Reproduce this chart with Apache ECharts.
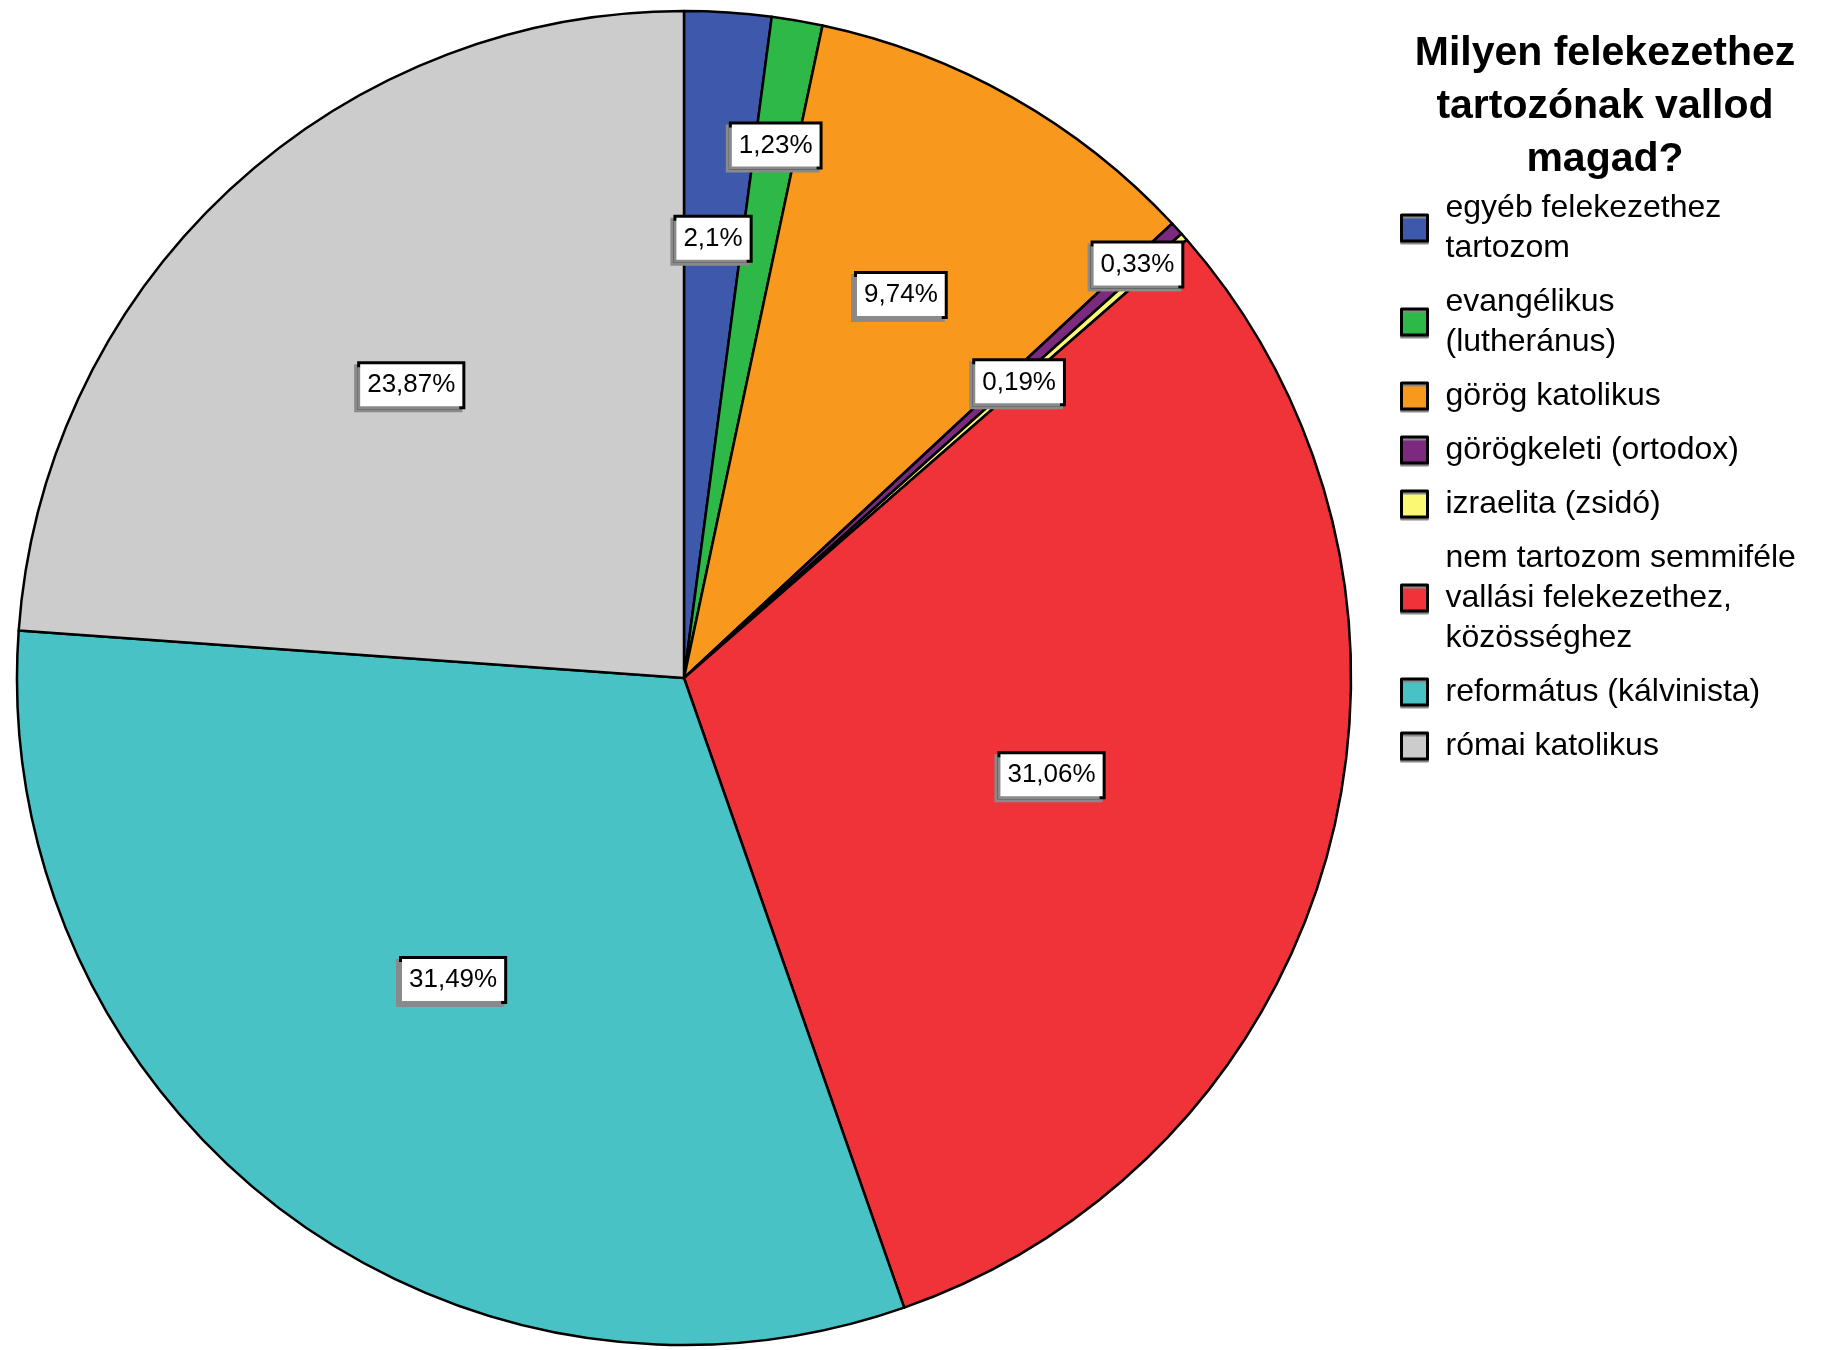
<!DOCTYPE html>
<html>
<head>
<meta charset="utf-8">
<title>Milyen felekezethez tartozónak vallod magad?</title>
<script src="https://cdn.jsdelivr.net/npm/echarts@6/dist/echarts.min.js"></script>
<style>
  html, body { margin: 0; padding: 0; background: #fff; }
  #chart { width: 1821px; height: 1350px; }
</style>
</head>
<body>
<div id="chart"></div>
<script>
// categories, in the order they appear clockwise from 12 o'clock
const categories = [
  'egyéb felekezethez\ntartozom',
  'evangélikus\n(lutheránus)',
  'görög katolikus',
  'görögkeleti (ortodox)',
  'izraelita (zsidó)',
  'nem tartozom semmiféle\nvallási felekezethez,\nközösséghez',
  'református (kálvinista)',
  'római katolikus'
];

// percent of respondents
const percents = [2.1, 1.23, 9.74, 0.33, 0.19, 31.06, 31.49, 23.87];

const colors = ['#3e58ac', '#2eb848', '#f8981d', '#7b2a80', '#fbf873', '#ef3338', '#48c2c5', '#cccccc'];

// where each percent label sits, as a share of the radius (styling only)
const labelRadius = [0.66, 0.81, 0.66, 0.92, 0.67, 0.57, 0.57, 0.60];

const CX = 684, CY = 678, R = 667;
const FONT = '"Liberation Sans", Arial, sans-serif';

const chart = echarts.init(document.getElementById('chart'));

const fmt = v => String(v).replace('.', ',') + '%';

chart.setOption({
  backgroundColor: '#fff',
  animation: false,
  color: colors,
  title: {
    text: 'Milyen felekezethez\ntartozónak vallod\nmagad?',
    left: 1605,
    top: 27,
    padding: 0,
    textAlign: 'center',
    textStyle: {
      fontFamily: FONT,
      fontWeight: 'bold',
      fontSize: 41,
      lineHeight: 53,
      color: '#000'
    }
  },
  legend: {
    orient: 'vertical',
    left: 1400,
    top: 188,
    padding: 0,
    itemGap: 14,
    itemWidth: 26,
    itemHeight: 26,
    icon: 'rect',
    selectedMode: false,
    itemStyle: {
      borderColor: '#000',
      borderWidth: 3,
      shadowColor: '#8a8a8a',
      shadowOffsetY: 2,
      shadowBlur: 0
    },
    textStyle: {
      fontFamily: FONT,
      fontSize: 32,
      lineHeight: 40,
      color: '#000',
      padding: [0, 0, 0, 13]
    },
    data: categories
  },
  series: [{
    type: 'pie',
    center: [CX, CY],
    radius: [0, R],
    startAngle: 90,
    clockwise: true,
    silent: true,
    emphasis: { disabled: true },
    itemStyle: { borderColor: '#000', borderWidth: 2.5 },
    label: {
      show: true,
      position: 'inside',
      formatter: p => fmt(p.value),
      fontFamily: FONT,
      fontSize: 26,
      color: '#000',
      backgroundColor: '#fff',
      borderColor: '#000',
      borderWidth: 3,
      padding: [9, 7, 7, 7],
      shadowColor: '#8a8a8a',
      shadowOffsetX: -3,
      shadowOffsetY: 3,
      shadowBlur: 0
    },
    labelLine: { show: false },
    labelLayout: function (p) {
      const lx = p.labelRect.x + p.labelRect.width / 2;
      const ly = p.labelRect.y + p.labelRect.height / 2;
      const d = Math.hypot(lx - CX, ly - CY) || 1;
      const k = labelRadius[p.dataIndex] * R / d;
      return { x: CX + (lx - CX) * k, y: CY + (ly - CY) * k };
    },
    data: categories.map((name, i) => ({ name: name, value: percents[i] }))
  }]
});
</script>
</body>
</html>
